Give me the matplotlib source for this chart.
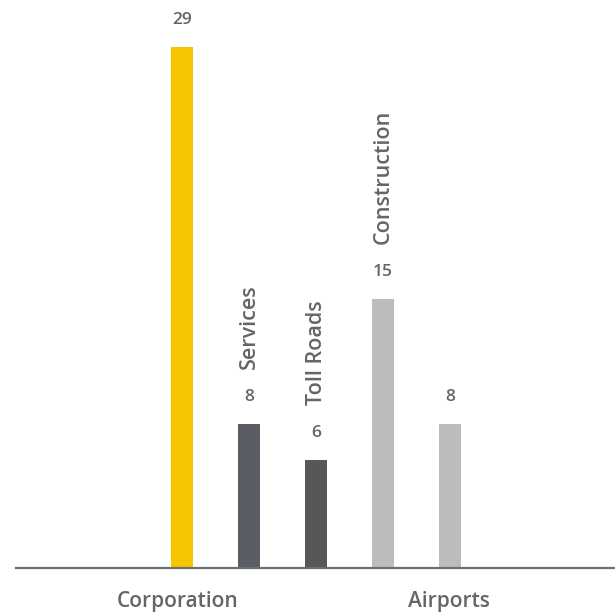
import matplotlib.pyplot as plt
import numpy as np

# bar values, colours and side labels
values = [29, 8, 6, 15, 8]
colors = ['#f7c500', '#5b5d64', '#575759', '#bbbcbe', '#bbbcbe']
bar_names = ['', 'Services', 'Toll Roads', 'Construction', '']
groups = ['Corporation', 'Airports']
group_pos = [-0.06, 3.98]

plt.rcParams['font.family'] = ['Open Sans', 'DejaVu Sans']
txt = '#636569'

fig = plt.figure(figsize=(6.15, 6.15), dpi=100)
ax = fig.add_axes([0, 0, 1, 1])
x = np.arange(len(values))
ax.bar(x, values, width=0.33, color=colors, zorder=2)

ax.set_xlim(-182 / 67, (615 - 182) / 67)
ppu = 521 / 29
ax.set_ylim(-47 / ppu, (615 - 47) / ppu)
ax.axhline(0, xmin=16 / 615, xmax=1, color='#6d6e71', lw=1.6, zorder=3)

for xi, v, name in zip(x, values, bar_names):
    ax.annotate(str(v), (xi, v), xytext=(0, 27), textcoords='offset pixels',
                ha='center', va='center', fontsize=12.5, fontweight='semibold', color=txt)
    if name:
        ax.annotate(name, (xi, v), xytext=(0, 55), textcoords='offset pixels',
                    ha='center', va='bottom', rotation=90, fontsize=15.5,
                    fontweight='semibold', color=txt)

for gx, g in zip(group_pos, groups):
    ax.annotate(g, (gx, 0), xytext=(0, -33), textcoords='offset pixels',
                ha='center', va='center', fontsize=15, fontweight='semibold', color=txt)

ax.axis('off')
fig.savefig('out.png', dpi=100)
